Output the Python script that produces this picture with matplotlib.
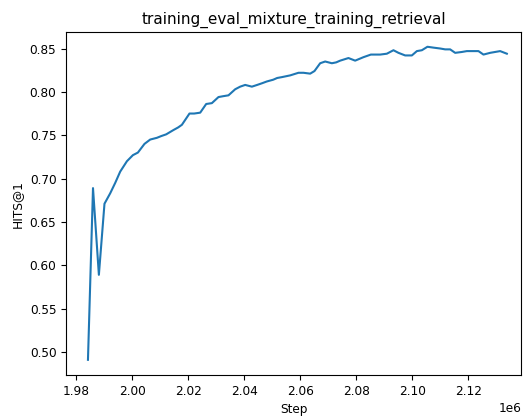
import matplotlib
matplotlib.use("Agg")
import matplotlib.pyplot as plt

title = "training_eval_mixture_training_retrieval"
x_label = "Step"
y_label = "HITS@1"

steps = [1984200, 1986000, 1988100, 1990100, 1992140, 1993930, 1995710, 1998110,
         2000250, 2002040, 2004390, 2006430, 2008820, 2010360, 2012140, 2014750,
         2016430, 2017750, 2020460, 2022140, 2024290, 2026430, 2028460, 2030820,
         2032500, 2034390, 2036790, 2038570, 2040360, 2042750, 2044640, 2046430,
         2048110, 2050360, 2051790, 2053460, 2056430, 2059390, 2061180, 2063570,
         2065110, 2067140, 2068930, 2071320, 2072860, 2074290, 2077250, 2079640,
         2082610, 2085250, 2086790, 2088570, 2090960, 2093320, 2095110, 2097500,
         2099890, 2101680, 2103460, 2105460, 2107610, 2110000, 2111790, 2113570,
         2115360, 2117750, 2119530, 2121430, 2123680, 2125470, 2127860, 2129640,
         2131430, 2133820]
hits = [0.491, 0.689, 0.589, 0.671, 0.683, 0.695, 0.708, 0.720,
        0.727, 0.730, 0.740, 0.745, 0.747, 0.749, 0.751, 0.756,
        0.759, 0.762, 0.775, 0.775, 0.776, 0.786, 0.787, 0.794,
        0.795, 0.796, 0.803, 0.806, 0.808, 0.806, 0.808, 0.810,
        0.812, 0.814, 0.816, 0.817, 0.819, 0.822, 0.822, 0.821,
        0.824, 0.833, 0.835, 0.833, 0.834, 0.836, 0.839, 0.836,
        0.840, 0.843, 0.843, 0.843, 0.844, 0.848, 0.845, 0.842,
        0.842, 0.847, 0.848, 0.852, 0.851, 0.850, 0.849, 0.849,
        0.845, 0.846, 0.847, 0.847, 0.847, 0.843, 0.845, 0.846,
        0.847, 0.844]

fig = plt.figure(figsize=(5.29, 4.16), dpi=100)
ax = fig.add_axes([0.125, 0.0986, 0.86, 0.824])
ax.plot(steps, hits, color="#1f77b4", linewidth=1.5)
ax.set_xlim(1976400, 2138900)
ax.set_ylim(0.4735, 0.8688)
ax.set_title(title, fontsize=11)
ax.set_xlabel(x_label, fontsize=8.7)
ax.set_ylabel(y_label, fontsize=8.7)
ax.tick_params(labelsize=8.7)
ax.xaxis.get_offset_text().set_fontsize(8.7)
fig.savefig("out.png", dpi=100)
